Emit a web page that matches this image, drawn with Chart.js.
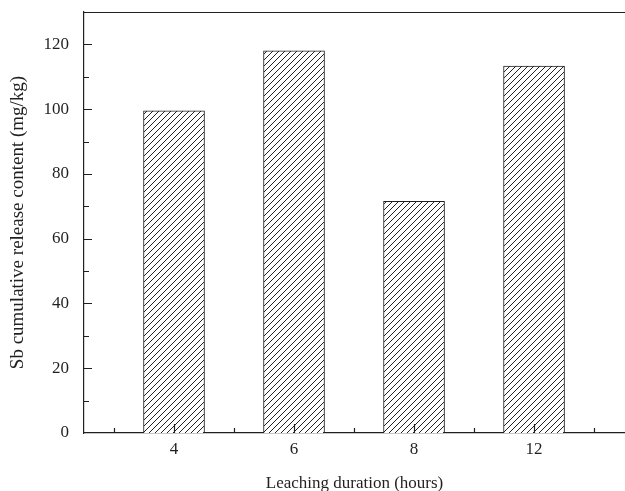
<!DOCTYPE html>
<html>
<head>
<meta charset="utf-8">
<script src="https://cdn.jsdelivr.net/npm/chart.js@4.4.1/dist/chart.umd.min.js"></script>
<style>
    html, body { margin: 0; padding: 0; background: #ffffff; overflow: hidden; }
    #wrap { width: 625px; height: 491px; position: relative; }
</style>
</head>
<body>
<div id="wrap"><canvas id="chart"></canvas></div>
<script>
// Leaching durations (hours) and Sb cumulative release (mg/kg)
const durations = ['4', '6', '8', '12'];
const releaseValues = [99.5, 118, 71.5, 113.3];
const yTickLabels = [0, 20, 40, 60, 80, 100, 120];

const axisColor = '#231f20';
const serif = "'Liberation Serif', 'DejaVu Serif', serif";

// Diagonal hatch fill like the original figure
function makeHatch() {
    const size = 6;
    const c = document.createElement('canvas');
    c.width = size;
    c.height = size;
    const g = c.getContext('2d');
    g.fillStyle = '#ffffff';
    g.fillRect(0, 0, size, size);
    g.strokeStyle = '#222222';
    g.lineWidth = 1;
    g.beginPath();
    g.moveTo(0, size);
    g.lineTo(size, 0);
    g.moveTo(-1, 1);
    g.lineTo(1, -1);
    g.moveTo(size - 1, size + 1);
    g.lineTo(size + 1, size - 1);
    g.stroke();
    return g.createPattern(c, 'repeat');
}

// Inward tick marks and the top frame line
const frameTicks = {
    id: 'frameTicks',
    afterDraw(chart) {
        const ctx = chart.ctx;
        const area = chart.chartArea;
        const xs = chart.scales.x;
        const ys = chart.scales.y;
        ctx.save();
        ctx.strokeStyle = axisColor;
        ctx.lineWidth = 1.2;
        ctx.beginPath();
        ctx.moveTo(area.left, area.top + 0.5);
        ctx.lineTo(area.right, area.top + 0.5);

        ys.ticks.forEach(t => {
            if (t.value <= 0 || t.value >= ys.max) return;
            const y = Math.round(ys.getPixelForValue(t.value)) + 0.5;
            const len = t.value % 20 === 0 ? 8 : 5;
            ctx.moveTo(area.left, y);
            ctx.lineTo(area.left + len, y);
        });
        xs.ticks.forEach(t => {
            const x = Math.round(xs.getPixelForValue(t.value)) + 0.5;
            const len = Number.isInteger(t.value) ? 9 : 5;
            ctx.moveTo(x, area.bottom);
            ctx.lineTo(x, area.bottom - len);
        });
        ctx.stroke();
        ctx.restore();
    }
};

const ctx = document.getElementById('chart').getContext('2d');
const hatch = makeHatch();

new Chart(ctx, {
    type: 'bar',
    data: {
        datasets: [{
            label: 'Sb cumulative release',
            data: releaseValues.map((v, i) => ({ x: i + 1, y: v })),
            backgroundColor: hatch,
            borderColor: axisColor,
            borderWidth: 1,
            barThickness: 61
        }]
    },
    options: {
        responsive: true,
        maintainAspectRatio: false,
        animation: false,
        layout: {
            padding: { top: 12, right: 0, left: 0, bottom: 0 }
        },
        plugins: {
            legend: { display: false },
            tooltip: { enabled: false }
        },
        scales: {
            x: {
                type: 'linear',
                offset: false,
                min: 0.25,
                max: 4.758,
                afterBuildTicks: (scale) => {
                    const ticks = [];
                    for (let v = 0.5; v <= 4.5; v += 0.5) ticks.push({ value: v });
                    scale.ticks = ticks;
                },
                afterFit: (scale) => {
                    scale.height = 58;
                    scale.paddingLeft = 0;
                    scale.paddingRight = 0;
                },
                grid: { display: false, drawTicks: false },
                border: { display: true, color: axisColor, width: 1.2 },
                ticks: {
                    padding: 6,
                    color: axisColor,
                    font: { family: serif, size: 17 },
                    maxRotation: 0,
                    autoSkip: false,
                    callback: (v) => Number.isInteger(v) ? durations[v - 1] : ''
                },
                title: {
                    display: true,
                    text: 'Leaching duration (hours)',
                    color: axisColor,
                    font: { family: serif, size: 17 },
                    padding: { top: 13, bottom: -3 }
                }
            },
            y: {
                min: 0,
                max: 130,
                afterFit: (scale) => {
                    scale.width = 84;
                    scale.paddingTop = 0;
                    scale.paddingBottom = 0;
                },
                grid: { display: false, drawTicks: false },
                border: { display: true, color: axisColor, width: 1.2 },
                ticks: {
                    stepSize: 10,
                    padding: 15,
                    color: axisColor,
                    font: { family: serif, size: 17 },
                    autoSkip: false,
                    callback: (v) => yTickLabels.includes(v) ? String(v) : ''
                },
                title: {
                    display: true,
                    text: 'Sb cumulative release content (mg/kg)',
                    color: axisColor,
                    font: { family: serif, size: 19 },
                    padding: { top: 7, bottom: 0 }
                }
            }
        }
    },
    plugins: [frameTicks]
});
</script>
</body>
</html>
